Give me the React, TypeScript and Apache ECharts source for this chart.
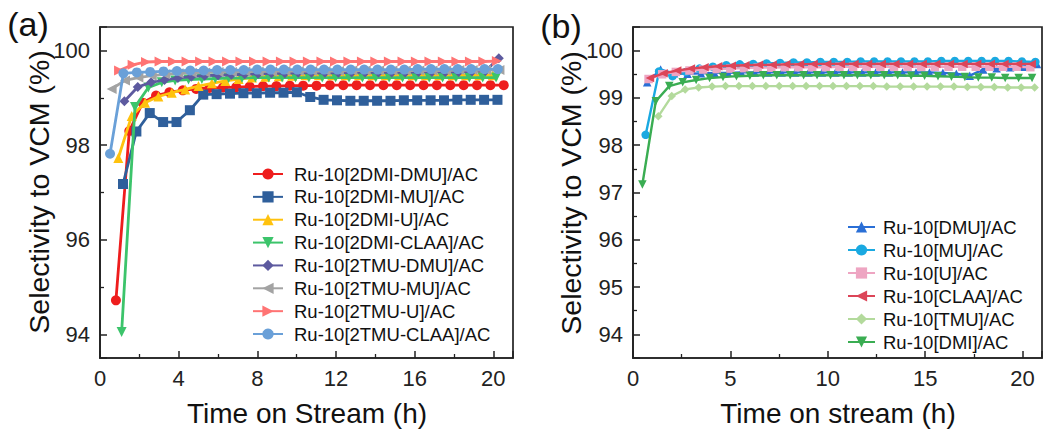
import React, { useEffect, useRef } from "react";
import * as echarts from "echarts";

const FONT = "'Liberation Sans', Arial, Helvetica, sans-serif";

// ---------- Panel (a) ----------
const aNames = [
  "Ru-10[2DMI-DMU]/AC",
  "Ru-10[2DMI-MU]/AC",
  "Ru-10[2DMI-U]/AC",
  "Ru-10[2DMI-CLAA]/AC",
  "Ru-10[2TMU-DMU]/AC",
  "Ru-10[2TMU-MU]/AC",
  "Ru-10[2TMU-U]/AC",
  "Ru-10[2TMU-CLAA]/AC",
];
const aColors = ["#ee1d1d", "#2f5f9b", "#ffc20e", "#3cc46b", "#5d5a9f", "#a3a3a3", "#ff7474", "#6aa0d8"];

const tA1 = [0.81,1.49,2.17,2.85,3.53,4.21,4.89,5.57,6.25,6.93,7.61,8.29,8.97,9.65,10.33,11.01,11.69,12.37,13.05,13.73,14.41,15.09,15.77,16.45,17.13,17.81,18.49,19.17,19.85,20.53];
const vA1 = [94.72,98.30,98.90,99.05,99.12,99.16,99.19,99.21,99.22,99.23,99.24,99.25,99.25,99.26,99.26,99.26,99.27,99.27,99.27,99.27,99.27,99.27,99.27,99.27,99.27,99.27,99.27,99.27,99.27,99.27];

const tA2 = [1.17,1.85,2.53,3.21,3.89,4.57,5.25,5.93,6.61,7.29,7.97,8.65,9.33,10.01,10.69,11.37,12.05,12.73,13.41,14.09,14.77,15.45,16.13,16.81,17.49,18.17,18.85,19.53,20.21];
const vA2 = [97.18,98.29,98.68,98.49,98.49,98.74,99.07,99.08,99.09,99.10,99.10,99.11,99.11,99.12,99.02,98.96,98.95,98.94,98.94,98.94,98.94,98.95,98.95,98.95,98.95,98.96,98.96,98.96,98.96];

const tA3 = [0.93,1.61,2.29,2.97,3.65,4.33,5.01,5.69,6.37,7.05,7.73,8.41,9.09,9.77,10.45,11.13,11.81,12.49,13.17,13.85,14.53,15.21,15.89,16.57,17.25,17.93,18.61,19.29,19.97];
const vA3 = [97.73,98.62,98.90,99.03,99.11,99.18,99.25,99.31,99.36,99.40,99.43,99.45,99.46,99.47,99.48,99.48,99.48,99.48,99.48,99.48,99.48,99.48,99.48,99.48,99.48,99.48,99.48,99.48,99.48];

const tA4 = [1.10,1.78,2.46,3.14,3.82,4.50,5.18,5.86,6.54,7.22,7.90,8.58,9.26,9.94,10.62,11.30,11.98,12.66,13.34,14.02,14.70,15.38,16.06,16.74,17.42,18.10,18.78,19.46,20.14];
const vA4 = [94.05,98.81,99.22,99.33,99.37,99.39,99.40,99.41,99.42,99.42,99.43,99.43,99.43,99.43,99.43,99.43,99.43,99.43,99.43,99.43,99.43,99.43,99.43,99.43,99.43,99.43,99.43,99.43,99.43];

const tA5 = [1.24,1.92,2.60,3.28,3.96,4.64,5.32,6.00,6.68,7.36,8.04,8.72,9.40,10.08,10.76,11.44,12.12,12.80,13.48,14.16,14.84,15.52,16.20,16.88,17.56,18.24,18.92,19.60,20.28];
const vA5 = [98.93,99.23,99.33,99.38,99.42,99.45,99.47,99.48,99.49,99.50,99.51,99.52,99.52,99.53,99.53,99.53,99.53,99.54,99.54,99.54,99.54,99.54,99.55,99.55,99.55,99.55,99.56,99.57,99.84];

const tA6 = [0.59,1.27,1.95,2.63,3.31,3.99,4.67,5.35,6.03,6.71,7.39,8.07,8.75,9.43,10.11,10.79,11.47,12.15,12.83,13.51,14.19,14.87,15.55,16.23,16.91,17.59,18.27,18.95,19.63,20.31];
const vA6 = [99.19,99.37,99.43,99.47,99.50,99.52,99.53,99.54,99.55,99.55,99.56,99.56,99.56,99.57,99.57,99.57,99.57,99.57,99.58,99.58,99.58,99.58,99.58,99.58,99.58,99.58,99.59,99.59,99.59,99.59];

const tA7 = [0.97,1.66,2.34,3.03,3.71,4.40,5.09,5.77,6.46,7.14,7.83,8.52,9.20,9.89,10.57,11.26,11.95,12.63,13.32,14.00,14.69,15.38,16.06,16.75,17.43,18.12,18.81,19.49,20.18];
const vA7 = [99.58,99.70,99.76,99.77,99.77,99.77,99.77,99.77,99.77,99.77,99.77,99.77,99.77,99.77,99.77,99.77,99.77,99.77,99.77,99.77,99.77,99.77,99.77,99.77,99.77,99.77,99.77,99.77,99.78];

const tA8 = [0.51,1.19,1.87,2.55,3.23,3.91,4.59,5.27,5.95,6.63,7.31,7.99,8.67,9.35,10.03,10.71,11.39,12.07,12.75,13.43,14.11,14.79,15.47,16.15,16.83,17.51,18.19,18.87,19.55,20.23];
const vA8 = [97.82,99.52,99.54,99.55,99.56,99.57,99.58,99.58,99.59,99.59,99.59,99.60,99.60,99.60,99.60,99.60,99.60,99.60,99.60,99.60,99.60,99.60,99.60,99.61,99.61,99.61,99.61,99.61,99.61,99.61];

// ---------- Panel (b) ----------
const bNames = [
  "Ru-10[DMU]/AC",
  "Ru-10[MU]/AC",
  "Ru-10[U]/AC",
  "Ru-10[CLAA]/AC",
  "Ru-10[TMU]/AC",
  "Ru-10[DMI]/AC",
];
const bColors = ["#2a6fd6", "#1aa9e1", "#eea5c2", "#dc4558", "#b3da9c", "#3aad52"];

const tB1 = [0.73,1.42,2.11,2.80,3.49,4.18,4.87,5.56,6.25,6.94,7.63,8.32,9.01,9.70,10.39,11.08,11.77,12.46,13.15,13.84,14.53,15.22,15.91,16.60,17.29,17.98,18.67,19.36,20.05,20.74];
const vB1 = [99.33,99.60,99.52,99.51,99.52,99.53,99.53,99.54,99.54,99.54,99.54,99.54,99.54,99.54,99.54,99.54,99.54,99.54,99.54,99.54,99.54,99.54,99.53,99.51,99.47,99.60,99.63,99.65,99.66,99.72];

const tB2 = [0.65,1.34,2.03,2.72,3.41,4.10,4.79,5.48,6.17,6.86,7.55,8.24,8.93,9.62,10.31,11.00,11.69,12.38,13.07,13.76,14.45,15.14,15.83,16.52,17.21,17.90,18.59,19.28,19.97,20.66];
const vB2 = [98.22,99.56,99.46,99.55,99.62,99.66,99.69,99.71,99.72,99.73,99.74,99.75,99.75,99.76,99.76,99.76,99.77,99.77,99.77,99.77,99.77,99.77,99.78,99.78,99.78,99.78,99.78,99.78,99.77,99.76];

const tB3 = [0.80,1.50,2.20,2.90,3.60,4.30,5.00,5.70,6.40,7.10,7.80,8.50,9.20,9.90,10.60,11.30,12.00,12.70,13.40,14.10,14.80,15.50,16.20,16.90,17.60,18.30,19.00,19.70,20.40];
const vB3 = [99.40,99.50,99.55,99.58,99.60,99.61,99.62,99.63,99.64,99.64,99.65,99.65,99.65,99.65,99.66,99.66,99.66,99.66,99.66,99.66,99.66,99.66,99.66,99.66,99.66,99.66,99.66,99.66,99.65];

const tB4 = [0.87,1.57,2.27,2.97,3.67,4.37,5.07,5.77,6.47,7.17,7.87,8.57,9.27,9.97,10.67,11.37,12.07,12.77,13.47,14.17,14.87,15.57,16.27,16.97,17.67,18.37,19.07,19.77,20.47];
const vB4 = [99.42,99.52,99.58,99.62,99.65,99.67,99.68,99.69,99.70,99.70,99.71,99.71,99.72,99.72,99.72,99.72,99.72,99.72,99.72,99.72,99.72,99.72,99.72,99.72,99.72,99.72,99.72,99.72,99.72];

const tB5 = [1.30,1.99,2.68,3.37,4.06,4.75,5.44,6.13,6.82,7.51,8.20,8.89,9.58,10.27,10.96,11.65,12.34,13.03,13.72,14.41,15.10,15.79,16.48,17.17,17.86,18.55,19.24,19.93,20.62];
const vB5 = [98.61,99.04,99.18,99.22,99.24,99.25,99.25,99.25,99.25,99.25,99.25,99.25,99.25,99.25,99.25,99.25,99.25,99.24,99.24,99.24,99.24,99.24,99.24,99.23,99.23,99.23,99.22,99.22,99.22];

const tB6 = [0.48,1.17,1.86,2.55,3.24,3.93,4.62,5.31,6.00,6.69,7.38,8.07,8.76,9.45,10.14,10.83,11.52,12.21,12.90,13.59,14.28,14.97,15.66,16.35,17.04,17.73,18.42,19.11,19.80,20.49];
const vB6 = [97.17,98.93,99.25,99.33,99.38,99.42,99.44,99.46,99.47,99.48,99.48,99.48,99.48,99.48,99.48,99.48,99.48,99.48,99.48,99.48,99.47,99.47,99.46,99.45,99.44,99.43,99.43,99.42,99.42,99.42];

// ---------- symbols ----------
const SYM_CIRCLE = "circle";
const SYM_SQUARE = "rect";
const SYM_UP = "path://M5,0L10,9L0,9Z";
const SYM_DOWN = "path://M0,0L10,0L5,9Z";
const SYM_DIAMOND = "path://M5,0L10,5L5,10L0,5Z";
const SYM_LEFT = "path://M9,0L9,10L0,5Z";
const SYM_RIGHT = "path://M0,0L9,5L0,10Z";

const aSymbols = [SYM_CIRCLE, SYM_SQUARE, SYM_UP, SYM_DOWN, SYM_DIAMOND, SYM_LEFT, SYM_RIGHT, SYM_CIRCLE];
const bSymbols = [SYM_UP, SYM_CIRCLE, SYM_SQUARE, SYM_LEFT, SYM_DIAMOND, SYM_DOWN];

const aData = [[tA1, vA1], [tA2, vA2], [tA3, vA3], [tA4, vA4], [tA5, vA5], [tA6, vA6], [tA7, vA7], [tA8, vA8]];
const bData = [[tB1, vB1], [tB2, vB2], [tB3, vB3], [tB4, vB4], [tB5, vB5], [tB6, vB6]];

function zip(t: number[], v: number[]) {
  const n = Math.min(t.length, v.length);
  const out: number[][] = [];
  for (let i = 0; i < n; i++) out.push([t[i], v[i]]);
  return out;
}

const AXIS_COLOR = "#222";

function xAxisCfg(gridIndex: number, interval: number) {
  return {
    type: "value",
    gridIndex,
    min: 0,
    max: 21,
    interval,
    axisLine: { show: true, onZero: false, lineStyle: { color: AXIS_COLOR, width: 1.7 } },
    axisTick: { show: true, inside: true, length: 7, lineStyle: { color: AXIS_COLOR, width: 1.5 } },
    minorTick: { show: true, splitNumber: 2, length: 4, lineStyle: { color: AXIS_COLOR, width: 1.3 } },
    splitLine: { show: false },
    axisLabel: {
      show: true,
      showMaxLabel: false,
      margin: 9,
      fontSize: 22,
      color: AXIS_COLOR,
      fontFamily: FONT,
      formatter: (val: number) => (Math.abs(val % interval) < 1e-6 ? String(val) : ""),
    },
  };
}

function yAxisCfg(gridIndex: number, step: number) {
  return {
    type: "value",
    gridIndex,
    min: 93.5,
    max: 100.5,
    minInterval: step,
    maxInterval: step,
    splitNumber: 7 / step,
    axisLine: { show: true, onZero: false, lineStyle: { color: AXIS_COLOR, width: 1.7 } },
    axisTick: { show: true, inside: true, length: 7, lineStyle: { color: AXIS_COLOR, width: 1.5 } },
    minorTick: { show: true, splitNumber: 2, length: 4, lineStyle: { color: AXIS_COLOR, width: 1.3 } },
    splitLine: { show: false },
    axisLabel: {
      show: true,
      showMinLabel: false,
      showMaxLabel: false,
      margin: 10,
      fontSize: 22,
      color: AXIS_COLOR,
      fontFamily: FONT,
      formatter: (val: number) => (Math.abs(val - Math.round(val)) < 1e-6 ? String(Math.round(val)) : ""),
    },
  };
}

function makeSeries(names: string[], data: number[][][], colors: string[], symbols: string[], idx: number, size: number, lw: number) {
  return names.map((name, i) => ({
    name,
    type: "line",
    xAxisIndex: idx,
    yAxisIndex: idx,
    data: zip(data[i][0], data[i][1]),
    symbol: symbols[i],
    symbolSize: size,
    showSymbol: true,
    lineStyle: { color: colors[i], width: lw },
    itemStyle: { color: colors[i] },
    emphasis: { disabled: true },
    z: 2 + i,
  }));
}

export default function App() {
  const ref = useRef<HTMLDivElement>(null);
  useEffect(() => {
    if (!ref.current) return;
    const chart = echarts.init(ref.current, undefined, { renderer: "svg" });
    const textBase = { fontFamily: FONT, fill: "#111" };
    chart.setOption({
      animation: false,
      backgroundColor: "#fff",
      grid: [
        { left: 100, top: 27, width: 413, height: 331, show: true, borderColor: AXIS_COLOR, borderWidth: 1.7, backgroundColor: "transparent" },
        { left: 633, top: 27, width: 409, height: 331, show: true, borderColor: AXIS_COLOR, borderWidth: 1.7, backgroundColor: "transparent" },
      ],
      xAxis: [xAxisCfg(0, 4), xAxisCfg(1, 5)],
      yAxis: [yAxisCfg(0, 2), yAxisCfg(1, 1)],
      legend: [
        {
          data: aNames,
          orient: "vertical",
          left: 247,
          top: 159,
          itemWidth: 30,
          itemHeight: 14,
          itemGap: 2.86,
          selectedMode: false,
          textStyle: { fontSize: 18.5, fontFamily: FONT, color: "#111", lineHeight: 20, padding: [0, 0, 0, 6] },
        },
        {
          data: bNames,
          orient: "vertical",
          left: 842,
          top: 212,
          itemWidth: 27,
          itemHeight: 14,
          itemGap: 3,
          selectedMode: false,
          textStyle: { fontSize: 18.5, fontFamily: FONT, color: "#111", lineHeight: 20, padding: [0, 0, 0, 3] },
        },
      ],
      series: [
        ...makeSeries(aNames, aData, aColors, aSymbols, 0, 10, 2.8),
        ...makeSeries(bNames, bData, bColors, bSymbols, 1, 8.5, 2.4),
      ],
      graphic: [
        { type: "text", x: 28, y: 24, style: { ...textBase, text: "(a)", fontSize: 34, textAlign: "center", textVerticalAlign: "middle" } },
        { type: "text", x: 561, y: 26, style: { ...textBase, text: "(b)", fontSize: 34, textAlign: "center", textVerticalAlign: "middle" } },
        { type: "text", x: 39, y: 192, rotation: Math.PI / 2, style: { ...textBase, text: "Selectivity to VCM (%)", fontSize: 28.5, textAlign: "center", textVerticalAlign: "middle" } },
        { type: "text", x: 571, y: 193, rotation: Math.PI / 2, style: { ...textBase, text: "Selectivity to VCM (%)", fontSize: 28.5, textAlign: "center", textVerticalAlign: "middle" } },
        { type: "text", x: 307, y: 413, style: { ...textBase, text: "Time on Stream (h)", fontSize: 28, textAlign: "center", textVerticalAlign: "middle" } },
        { type: "text", x: 838, y: 413, style: { ...textBase, text: "Time on stream (h)", fontSize: 28, textAlign: "center", textVerticalAlign: "middle" } },
      ],
    });
    return () => chart.dispose();
  }, []);
  return <div ref={ref} style={{ width: 1044, height: 432, position: "absolute", left: 0, top: 0 }} />;
}
